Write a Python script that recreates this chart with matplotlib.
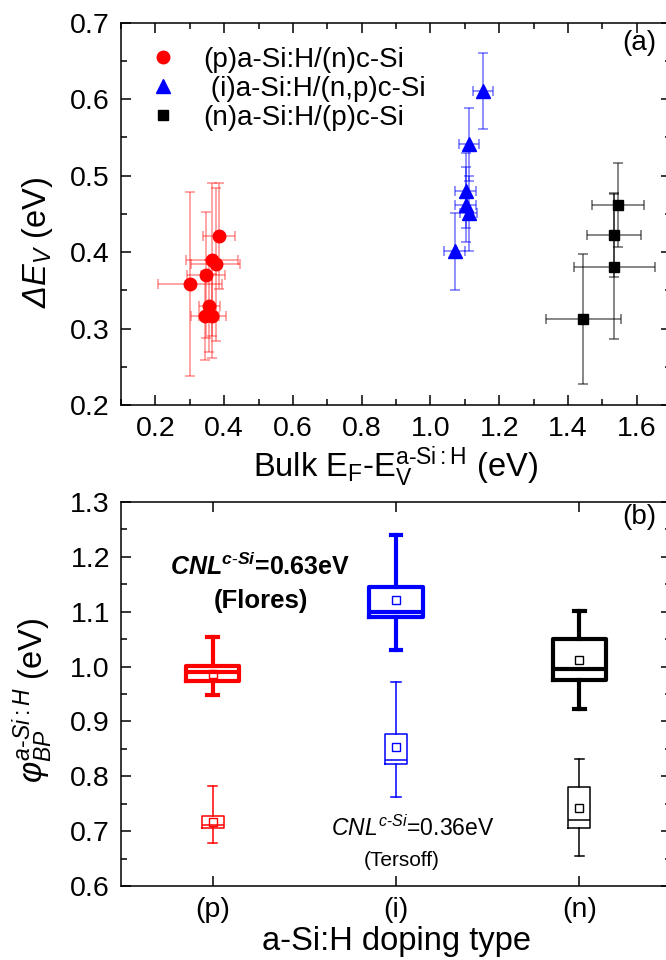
import matplotlib
matplotlib.use("Agg")
import matplotlib.pyplot as plt
from matplotlib.ticker import MultipleLocator, FormatStrFormatter

plt.rcParams['font.family'] = ['Liberation Sans', 'DejaVu Sans']
plt.rcParams['mathtext.fontset'] = 'custom'
plt.rcParams['mathtext.rm'] = 'Liberation Sans'
plt.rcParams['mathtext.it'] = 'Liberation Sans:italic'
plt.rcParams['mathtext.cal'] = 'Liberation Sans:italic'
plt.rcParams['mathtext.bf'] = 'Liberation Sans:bold'
plt.rcParams['mathtext.bfit'] = 'Liberation Sans:bold:italic'

# ---- panel (a) data ----
red_x = [0.385, 0.364, 0.375, 0.347, 0.302, 0.357, 0.345, 0.366]
red_y = [0.421, 0.390, 0.384, 0.370, 0.358, 0.329, 0.317, 0.316]
red_xerr = [0.046, 0.075, 0.070, 0.056, 0.093, 0.030, 0.040, 0.038]
red_yerr = [0.069, 0.100, 0.100, 0.082, 0.120, 0.060, 0.058, 0.055]

blue_x = [1.152, 1.112, 1.103, 1.103, 1.112, 1.071]
blue_y = [0.611, 0.541, 0.480, 0.462, 0.451, 0.401]
blue_xerr = [0.029, 0.030, 0.030, 0.030, 0.025, 0.030]
blue_yerr = [0.050, 0.048, 0.049, 0.049, 0.049, 0.050]

black_x = [1.545, 1.535, 1.535, 1.445]
black_y = [0.462, 0.422, 0.381, 0.312]
black_xerr = [0.076, 0.078, 0.118, 0.109]
black_yerr = [0.055, 0.055, 0.095, 0.085]

series_labels = ['(p)a-Si:H/(n)c-Si', ' (i)a-Si:H/(n,p)c-Si', '(n)a-Si:H/(p)c-Si']

# ---- panel (b) data ----
categories = ['(p)', '(i)', '(n)']
box_colors = ['#ff0000', '#0000ff', '#000000']
# Flores (CNL = 0.63 eV)
fl_low = [0.948, 1.031, 0.922]
fl_q1 = [0.973, 1.091, 0.975]
fl_med = [0.990, 1.100, 0.995]
fl_q3 = [1.001, 1.145, 1.051]
fl_high = [1.053, 1.240, 1.102]
fl_mean = [0.987, 1.122, 1.012]
# Tersoff (CNL = 0.36 eV)
te_low = [0.678, 0.762, 0.655]
te_q1 = [0.705, 0.822, 0.705]
te_med = [0.712, 0.829, 0.720]
te_q3 = [0.728, 0.877, 0.780]
te_high = [0.782, 0.971, 0.832]
te_mean = [0.716, 0.853, 0.742]

fig = plt.figure(figsize=(6.66, 9.60), dpi=100)
L, W = 121/666, 550/666
ax1 = fig.add_axes([L, 1-405/960, W, 382.3/960])
ax2 = fig.add_axes([L, 1-886/960, W, 384/960])

TICK = 20.5
for ax in (ax1, ax2):
    ax.tick_params(which='both', direction='in', top=True, right=True, labelsize=TICK, width=1.1)
    ax.tick_params(which='major', length=7.5, pad=8)
    ax.tick_params(which='minor', length=4.5)
    for s in ax.spines.values():
        s.set_linewidth(1.1)

# panel (a)
eb = dict(capsize=3.5, elinewidth=1.1, capthick=1.1, linestyle='none')
e1 = ax1.errorbar(red_x, red_y, xerr=red_xerr, yerr=red_yerr, fmt='o', color='#ff0000',
                  ms=9, ecolor=(1, 0, 0, 0.45), label=series_labels[0], **eb)
e2 = ax1.errorbar(blue_x, blue_y, xerr=blue_xerr, yerr=blue_yerr, fmt='^', color='#0000ff',
                  ms=10, ecolor=(0, 0, 1, 0.55), label=series_labels[1], **eb)
e3 = ax1.errorbar(black_x, black_y, xerr=black_xerr, yerr=black_yerr, fmt='s', color='#000000',
                  ms=7.5, ecolor=(0, 0, 0, 0.6), label=series_labels[2], **eb)
ax1.set_xlim(0.1, 1.7)
ax1.set_ylim(0.2, 0.7)
ax1.xaxis.set_major_locator(MultipleLocator(0.2))
ax1.xaxis.set_minor_locator(MultipleLocator(0.1))
ax1.yaxis.set_major_locator(MultipleLocator(0.1))
ax1.yaxis.set_minor_locator(MultipleLocator(0.05))
ax1.set_xlabel(r'Bulk E$_\mathrm{F}$-E$_\mathrm{V}^\mathrm{a\text{-}Si:H}$ (eV)', fontsize=23.5, labelpad=1.5)
ax1.set_ylabel(r'$\mathcal{Δ}\mathit{E_V}$ (eV)', fontsize=23.5)
ax1.yaxis.set_label_coords(-0.12, 0.424)
h = [e1[0], e2[0], e3[0]]
ax1.legend(h, series_labels, loc='upper left', bbox_to_anchor=(0.051, 0.936), frameon=False,
           fontsize=20, handlelength=1.0, handletextpad=0.96, borderaxespad=0, borderpad=0,
           labelspacing=0.1, markerscale=1.0)
ax1.text(0.973, 0.98, '(a)', transform=ax1.transAxes, ha='right', va='top', fontsize=20)

# panel (b)
pos = [1, 2, 3]
fl_stats = [dict(whislo=fl_low[i], q1=fl_q1[i], med=fl_med[i], q3=fl_q3[i], whishi=fl_high[i],
                 mean=fl_mean[i], fliers=[]) for i in range(3)]
te_stats = [dict(whislo=te_low[i], q1=te_q1[i], med=te_med[i], q3=te_q3[i], whishi=te_high[i],
                 mean=te_mean[i], fliers=[]) for i in range(3)]
for i in range(3):
    c = box_colors[i]
    ax2.bxp([fl_stats[i]], positions=[pos[i]], widths=0.29, showmeans=True, showfliers=False,
            manage_ticks=False,
            boxprops=dict(color=c, linewidth=3), medianprops=dict(color=c, linewidth=3),
            whiskerprops=dict(color=c, linewidth=3), capprops=dict(color=c, linewidth=3),
            capwidths=0.06,
            meanprops=dict(marker='s', markerfacecolor='none', markeredgecolor=c, markersize=6,
                           markeredgewidth=1))
    ax2.bxp([te_stats[i]], positions=[pos[i]], widths=0.12, showmeans=True, showfliers=False,
            manage_ticks=False,
            boxprops=dict(color=c, linewidth=1.1), medianprops=dict(color=c, linewidth=1.1),
            whiskerprops=dict(color=c, linewidth=1.1), capprops=dict(color=c, linewidth=1.1),
            capwidths=0.05,
            meanprops=dict(marker='s', markerfacecolor='none', markeredgecolor=c, markersize=6,
                           markeredgewidth=1))
ax2.set_xlim(0.5, 3.5)
ax2.set_ylim(0.6, 1.3)
ax2.set_xticks(pos)
ax2.set_xticklabels(categories)
ax2.yaxis.set_major_locator(MultipleLocator(0.1))
ax2.yaxis.set_minor_locator(MultipleLocator(0.05))
ax2.yaxis.set_major_formatter(FormatStrFormatter('%.1f'))
ax2.set_xlabel('a-Si:H doping type', fontsize=23.5, labelpad=2)
ax2.set_ylabel(r'$\mathit{φ}_{\mathit{BP}}^{\mathit{a\text{-}Si:H}}$ (eV)', fontsize=23.5)
ax2.yaxis.set_label_coords(-0.12, 0.484)
ax2.text(0.973, 0.995, '(b)', transform=ax2.transAxes, ha='right', va='top', fontsize=20)
ax2.text(1.749, 1.167, r'$\mathbfit{CNL}^{\mathbfit{c\text{-}Si}}$=0.63eV', fontsize=18,
         fontweight='bold', ha='right', va='baseline')
ax2.text(1.264, 1.106, '(Flores)', fontsize=18.5, fontweight='bold', ha='center', va='baseline')
ax2.text(2.09, 0.692, r'$\mathit{CNL}^{\mathit{c\text{-}Si}}$=0.36eV', fontsize=16.5,
         ha='center', va='baseline')
ax2.text(2.03, 0.636, '(Tersoff)', fontsize=15, ha='center', va='baseline')

fig.savefig('out.png', dpi=100)
